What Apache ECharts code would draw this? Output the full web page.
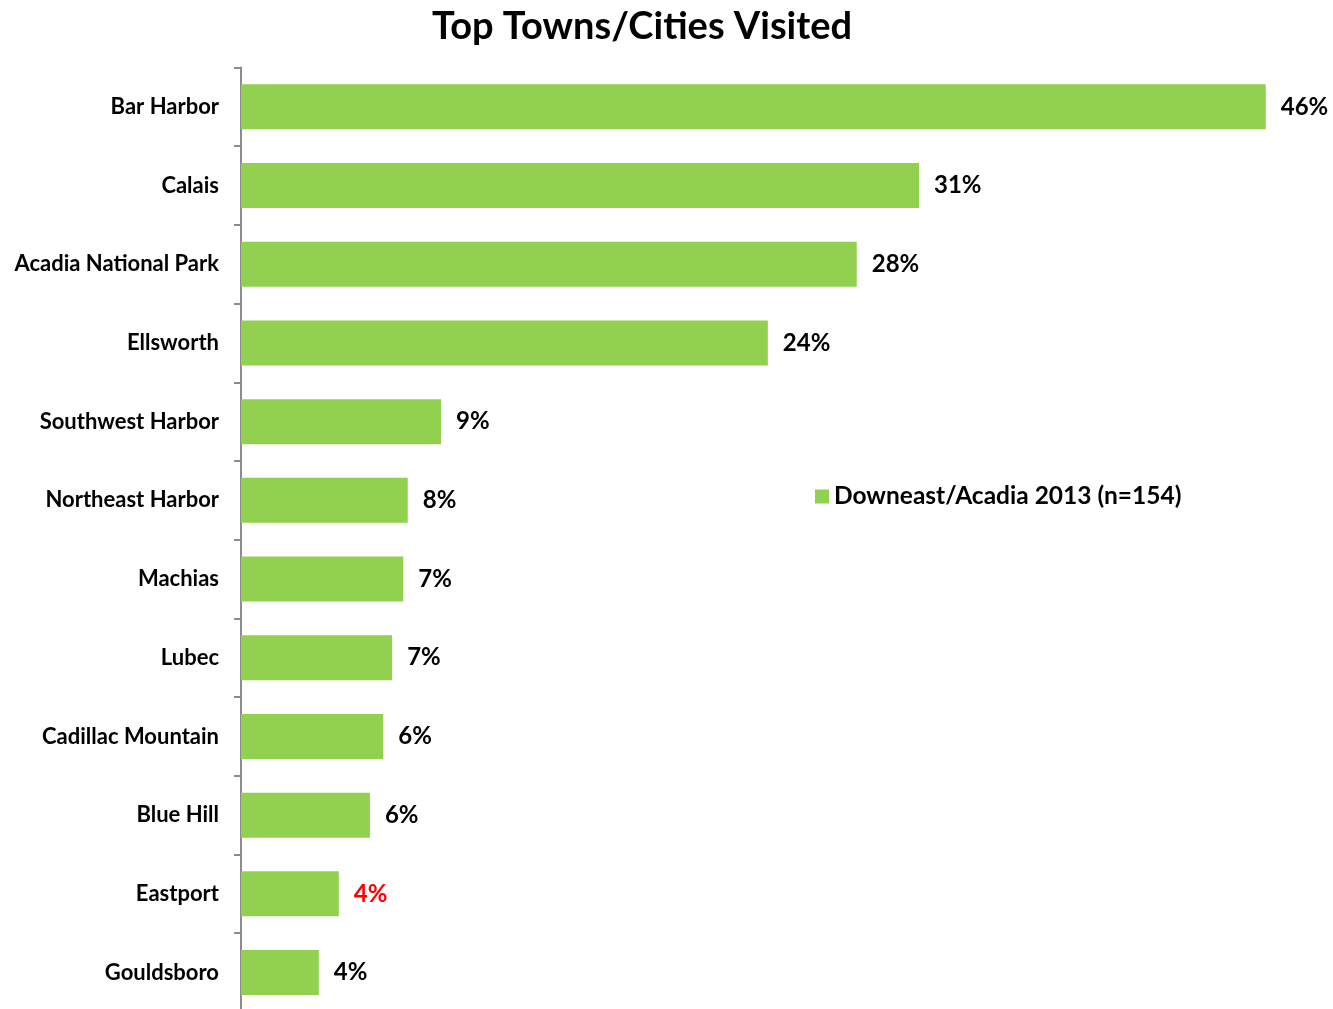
<!DOCTYPE html>
<html>
<head>
<meta charset="utf-8">
<script src="https://cdn.jsdelivr.net/npm/echarts@6/dist/echarts.min.js"></script>
<style>
  html, body { margin: 0; padding: 0; background: #ffffff; overflow: hidden; }
  /* the last category band runs a few pixels past the bottom edge of the window */
  #chart { width: 1333px; height: 1012px; }
</style>
</head>
<body>
<div id="chart"></div>
<script>
// Towns/cities visited, Downeast/Acadia 2013 survey (percent of respondents)
const towns = [
  'Bar Harbor', 'Calais', 'Acadia National Park', 'Ellsworth', 'Southwest Harbor',
  'Northeast Harbor', 'Machias', 'Lubec', 'Cadillac Mountain', 'Blue Hill',
  'Eastport', 'Gouldsboro'
];
const visitedPct = [46.1, 30.5, 27.7, 23.7, 9.0, 7.5, 7.3, 6.8, 6.4, 5.8, 4.4, 3.5];
// towns whose value label is highlighted in red
const highlighted = ['Eastport'];
const seriesName = 'Downeast/Acadia 2013 (n=154)';

const FONT = 'Lato, "Open Sans", sans-serif';
const GREEN = '#92D050';
const AXIS_GREY = '#8c8c8c';

const chart = echarts.init(document.getElementById('chart'), null, { renderer: 'canvas' });

chart.setOption({
  animation: false,
  backgroundColor: '#ffffff',
  title: {
    text: 'Top Towns/Cities Visited',
    left: 637,
    textAlign: 'center',
    top: 3,
    textStyle: { fontFamily: FONT, fontWeight: 'bold', fontSize: 38, color: '#000000' }
  },
  legend: {
    left: 810,
    top: 479,
    itemWidth: 14,
    itemHeight: 14,
    itemGap: 8,
    icon: 'rect',
    data: [seriesName],
    textStyle: { fontFamily: FONT, fontWeight: 'bold', fontSize: 24.5, color: '#000000' }
  },
  grid: { left: 241, top: 67.5, width: 1067, height: 944.4, containLabel: false },
  xAxis: {
    type: 'value',
    min: 0,
    max: 48,
    show: false
  },
  yAxis: {
    type: 'category',
    data: towns,
    inverse: true,
    axisLine: { show: true, lineStyle: { color: AXIS_GREY, width: 2 } },
    axisTick: { show: true, length: 7, lineStyle: { color: AXIS_GREY, width: 2 } },
    axisLabel: {
      margin: 22,
      fontFamily: FONT,
      fontWeight: 'bold',
      fontSize: 22,
      color: '#000000'
    },
    splitLine: { show: false }
  },
  series: [{
    name: seriesName,
    type: 'bar',
    barWidth: 45,
    itemStyle: { color: GREEN },
    data: visitedPct.map((v, i) => ({
      value: v,
      label: { color: highlighted.includes(towns[i]) ? '#FF0000' : '#000000' }
    })),
    label: {
      show: true,
      position: 'right',
      distance: 15,
      fontFamily: FONT,
      fontWeight: 'bold',
      fontSize: 24,
      formatter: p => Math.round(p.value) + '%'
    }
  }]
});
</script>
</body>
</html>
